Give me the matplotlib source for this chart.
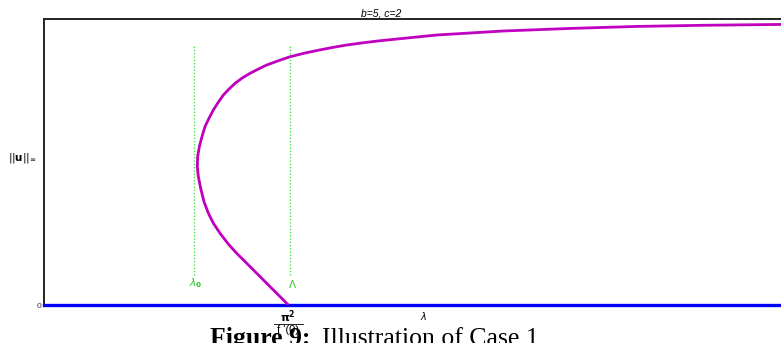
import numpy as np
import matplotlib
matplotlib.use("Agg")
from matplotlib import pyplot as plt
from matplotlib.transforms import blended_transform_factory

plt.rcParams['font.family'] = ['Liberation Sans', 'DejaVu Sans']
plt.rcParams['mathtext.fontset'] = 'dejavusans'

# bifurcation branch: lambda vs ||u||_inf
lam = [3.315, 3.157, 3.021, 2.886, 2.750, 2.614, 2.501, 2.388, 2.298, 2.230,
       2.171, 2.126, 2.094, 2.080, 2.085, 2.108, 2.144, 2.185, 2.239, 2.298,
       2.365, 2.433, 2.510, 2.592, 2.691, 2.795, 2.908, 3.021, 3.180, 3.338,
       3.541, 3.745, 3.926, 4.107, 4.333, 4.559, 5.328, 6.228, 7.137, 8.042,
       8.942, 10.0]
unorm = [0.0, 0.041, 0.076, 0.111, 0.146, 0.181, 0.213, 0.251, 0.286, 0.321,
         0.361, 0.408, 0.449, 0.484, 0.519, 0.554, 0.589, 0.624, 0.653, 0.682,
         0.709, 0.734, 0.755, 0.775, 0.794, 0.810, 0.825, 0.839, 0.854, 0.868,
         0.881, 0.892, 0.901, 0.909, 0.917, 0.924, 0.944, 0.958, 0.967, 0.974,
         0.978, 0.981]

# trivial branch u = 0
triv_lam = [0.0, 10.0]
triv_u = [0.0, 0.0]

lam0 = 2.034      # turning point
Lam = 3.338
lam_bif = 3.315   # pi^2 / f'(0)
vline_u = [0.105, 0.909]

W, H = 781, 343
fig = plt.figure(figsize=(W / 100, H / 100), dpi=100)
ax = fig.add_axes([44 / W, (H - 305) / H, (W - 44) / W, 286 / H])
ax.set_xlim(0, 10)
ax.set_ylim(0, 1)

ax.plot(triv_lam, triv_u, color='#0000ff', lw=2.4, clip_on=False, zorder=3)
ax.plot(lam, unorm, color='#bf00bf', lw=2.0, solid_capstyle='butt',
        solid_joinstyle='round', zorder=4)

for xv, lab in [(lam0, r'$\lambda_{\mathbf{0}}$'), (Lam, r'$\Lambda$')]:
    ax.plot([xv, xv], vline_u, color='#33dd33', lw=0.9, ls=(0, (1, 1.6)), zorder=2)
    ax.text(xv + 0.03, 0.075, lab, color='#22cc22', fontsize=7.5,
            ha='center', va='center')

for s in ['right', 'bottom']:
    ax.spines[s].set_visible(False)
for s in ['left', 'top']:
    ax.spines[s].set_linewidth(1.4)
    ax.spines[s].set_color('#222222')

ax.set_xticks([lam_bif])
ax.set_xticklabels([''])
ax.set_yticks([0])
ax.set_yticklabels(['0'], fontsize=6, color='#333333')
ax.tick_params(length=0, pad=2)

# stacked fraction label under the bifurcation point
tr = blended_transform_factory(ax.transData, fig.transFigure)
ax.text(lam_bif, 1 - 317 / H, r'$\mathbf{\pi^2}$', transform=tr, fontsize=8,
        ha='center', va='center', clip_on=False)
ax.plot([lam_bif - 0.2, lam_bif + 0.2], [1 - 323.5 / H] * 2, transform=tr,
        color='black', lw=0.6, clip_on=False)
ax.text(lam_bif, 1 - 330 / H, "f '(0)", transform=tr, fontsize=8,
        ha='center', va='center', clip_on=False)

ax.set_title('b=5, c=2', fontsize=7.5, style='italic', x=0.458, pad=2)
fig.text(424 / W, 1 - 316 / H, r'$\lambda$', fontsize=7, ha='center', va='center')
fig.text(22 / W, 1 - 158 / H, r'$||\mathbf{u}||_{\infty}$', fontsize=7.5,
         ha='center', va='center')

# caption, kept behind the axes so the tick label stays on top
fig.text(210 / W, 1 - 345 / H, 'Figure 9:', family='Liberation Serif',
         weight='bold', fontsize=18.5, ha='left', va='baseline', zorder=-1)
fig.text(322 / W, 1 - 345 / H, 'Illustration of Case 1', family='Liberation Serif',
         fontsize=18.5, ha='left', va='baseline', zorder=-1)

fig.savefig('out.png', dpi=100)
